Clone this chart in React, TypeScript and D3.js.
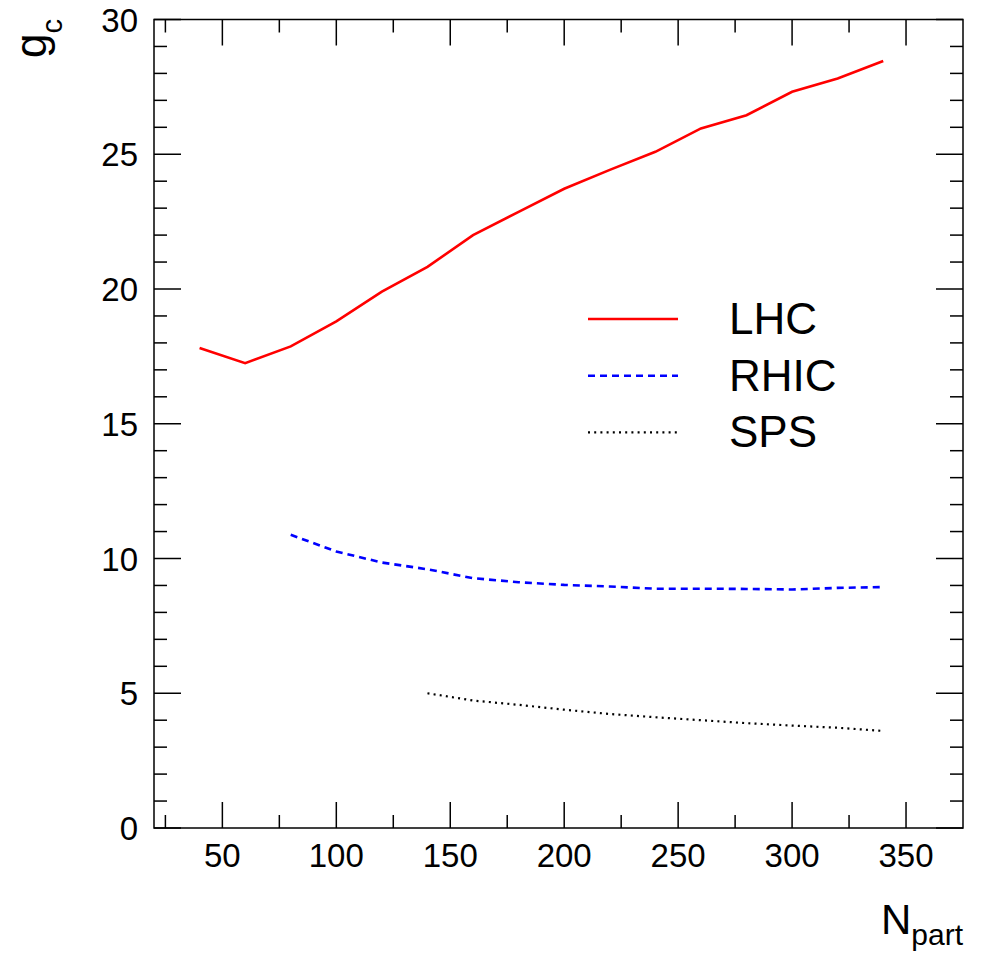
import React from "react";
import * as d3 from "d3";

const nPartLHC = [40, 60, 80, 100, 120, 140, 160, 180, 200, 220, 240, 260, 280, 300, 320, 340];
const gcLHC = [17.81, 17.25, 17.87, 18.8, 19.9, 20.82, 22.0, 22.86, 23.72, 24.42, 25.09, 25.96, 26.45, 27.32, 27.81, 28.46];
const nPartRHIC = [80, 100, 120, 140, 160, 180, 200, 220, 240, 260, 280, 300, 320, 340];
const gcRHIC = [10.88, 10.26, 9.85, 9.6, 9.27, 9.12, 9.02, 8.96, 8.88, 8.88, 8.87, 8.85, 8.91, 8.94];
const nPartSPS = [140, 160, 180, 200, 220, 240, 260, 280, 300, 320, 340];
const gcSPS = [5.0, 4.73, 4.57, 4.39, 4.23, 4.11, 4.0, 3.89, 3.8, 3.72, 3.6];

const xMajorTicks = [50, 100, 150, 200, 250, 300, 350];
const yMajorTicks = [0, 5, 10, 15, 20, 25, 30];
const seriesNames = ["LHC", "RHIC", "SPS"];

const W = 986;
const H = 957;
const L = 154, R = 963, T = 19.5, B = 828;
const FONT = "'Liberation Sans', Arial, Helvetica, sans-serif";

export default function App() {
  const x = d3.scaleLinear().domain([20, 375]).range([L, R]);
  const y = d3.scaleLinear().domain([0, 30]).range([B, T]);

  const line = d3.line<[number, number]>().x((d) => x(d[0])).y((d) => y(d[1]));
  const lhc = line(nPartLHC.map((n, i) => [n, gcLHC[i]]))!;
  const rhic = line(nPartRHIC.map((n, i) => [n, gcRHIC[i]]))!;
  const sps = line(nPartSPS.map((n, i) => [n, gcSPS[i]]))!;

  const xMinor = d3.range(25, 376, 25).filter((v) => v % 50 !== 0 && v > 20 && v < 375);
  const yMinor = d3.range(0, 31, 1).filter((v) => v % 5 !== 0);

  const styles = [
    { stroke: "#ff0000", dash: undefined as string | undefined, width: 2.6 },
    { stroke: "#0000ff", dash: "7,5", width: 2.6 },
    { stroke: "#000000", dash: "2,4.2", width: 2.2 },
  ];
  const paths = [lhc, rhic, sps];
  const legendY = [319, 375.7, 432.3];

  return (
    <svg width={W} height={H} style={{ position: "absolute", left: 0, top: 0, background: "#fff" }} fontFamily={FONT}>
      <rect x={0} y={0} width={W} height={H} fill="#fff" />
      {/* frame */}
      <rect x={L} y={T} width={R - L} height={B - T} fill="none" stroke="#000" strokeWidth={1.5} />
      {/* x ticks */}
      {xMajorTicks.map((v) => (
        <g key={"xm" + v}>
          <line x1={x(v)} x2={x(v)} y1={B} y2={B - 26} stroke="#000" strokeWidth={1.5} />
          <line x1={x(v)} x2={x(v)} y1={T} y2={T + 26} stroke="#000" strokeWidth={1.5} />
          <text x={x(v)} y={867} fontSize={33} textAnchor="middle" fill="#000">{v}</text>
        </g>
      ))}
      {xMinor.map((v) => (
        <g key={"xn" + v}>
          <line x1={x(v)} x2={x(v)} y1={B} y2={B - 13} stroke="#000" strokeWidth={1.5} />
          <line x1={x(v)} x2={x(v)} y1={T} y2={T + 13} stroke="#000" strokeWidth={1.5} />
        </g>
      ))}
      {/* y ticks */}
      {yMajorTicks.map((v) => (
        <g key={"ym" + v}>
          <line x1={L} x2={L + 27} y1={y(v)} y2={y(v)} stroke="#000" strokeWidth={1.5} />
          <line x1={R} x2={R - 27} y1={y(v)} y2={y(v)} stroke="#000" strokeWidth={1.5} />
          <text x={138} y={y(v) + 12} fontSize={33} textAnchor="end" fill="#000">{v}</text>
        </g>
      ))}
      {yMinor.map((v) => (
        <g key={"yn" + v}>
          <line x1={L} x2={L + 13} y1={y(v)} y2={y(v)} stroke="#000" strokeWidth={1.5} />
          <line x1={R} x2={R - 13} y1={y(v)} y2={y(v)} stroke="#000" strokeWidth={1.5} />
        </g>
      ))}
      {/* curves */}
      {paths.map((p, i) => (
        <path key={"p" + i} d={p} fill="none" stroke={styles[i].stroke} strokeWidth={styles[i].width} strokeDasharray={styles[i].dash} />
      ))}
      {/* legend */}
      {seriesNames.map((s, i) => (
        <g key={"lg" + s}>
          <line x1={588} x2={678} y1={legendY[i]} y2={legendY[i]} stroke={styles[i].stroke} strokeWidth={styles[i].width} strokeDasharray={styles[i].dash} />
          <text x={729} y={legendY[i] + 15} fontSize={44} fill="#000">{s}</text>
        </g>
      ))}
      {/* axis titles */}
      <text x={963} y={934} fontSize={42} textAnchor="end" fill="#000">
        N<tspan fontSize={30} dy={11}>part</tspan>
      </text>
      <text transform="translate(46,58) rotate(-90)" fontSize={44} fill="#000">
        g<tspan fontSize={29} dy={16}>c</tspan>
      </text>
    </svg>
  );
}
